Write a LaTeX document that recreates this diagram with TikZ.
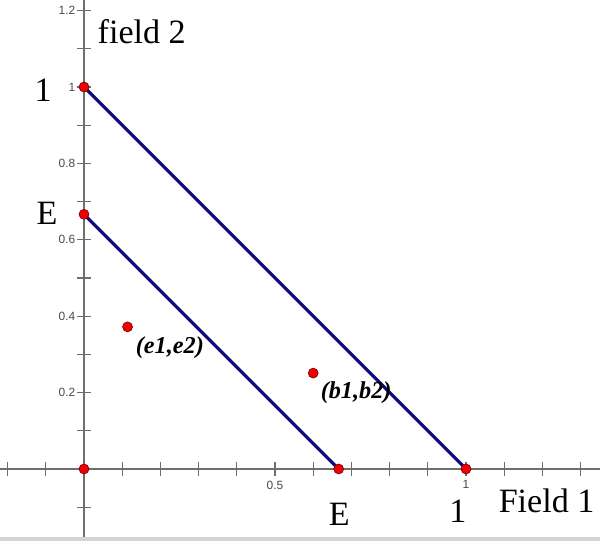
\documentclass[tikz,border=0pt]{standalone}
\usepackage{fontspec}
\setmainfont{Liberation Serif}
\setsansfont{Liberation Sans}
\usepackage{xcolor}
\usetikzlibrary{positioning}
\definecolor{fieldNavy}{HTML}{0C0C80}
\definecolor{fieldAxisGray}{HTML}{6E6E6E}
\definecolor{fieldTickText}{HTML}{4A4A4A}
\definecolor{fieldDotRed}{HTML}{F00000}
\definecolor{fieldDotRim}{HTML}{7A0000}
\definecolor{fieldFrame}{HTML}{D4D4D4}
\tikzset{
  fieldAxis/.style={
    draw=fieldAxisGray,
    line width=0.13mm
  },
  fieldTick/.style={
    draw=fieldAxisGray,
    line width=0.11mm
  },
  fieldTickLabel/.style={
    font=\sffamily\fontsize{3.4}{3.8}\selectfont,
    text=fieldTickText,
    inner sep=0pt
  },
  fieldLine/.style={
    draw=fieldNavy,
    line width=0.32mm
  },
  fieldDot/.style={
    circle,
    fill=fieldDotRed,
    draw=fieldDotRim,
    line width=0.06mm,
    minimum size=1.0mm,
    inner sep=0pt
  },
  fieldLabel/.style={
    font=\fontsize{9.7}{11}\selectfont,
    inner sep=0pt
  },
  fieldPairLabel/.style={
    font=\bfseries\itshape\fontsize{6.9}{8}\selectfont,
    inner sep=0pt
  }
}

\begin{document}
\begin{tikzpicture}[x=3.82cm, y=3.82cm]
\useasboundingbox (-0.2199,-0.1885) rectangle (1.3508,1.2277);
\fill[fieldFrame] (-0.2199,-0.1885) rectangle (1.3508,-0.178);

% axes and ticks
\draw[fieldAxis] (-0.2199,0) -- (1.3508,0);
\draw[fieldAxis] (0,-0.178) -- (0,1.2277);
\foreach \t in {-0.2,-0.1,0.1,0.2,0.3,0.4,0.5,0.6,0.7,0.8,0.9,1.0,1.1,1.2,1.3}
  \draw[fieldTick] (\t,-0.018) -- (\t,0.018);
\foreach \t in {-0.1,0.1,0.2,0.3,0.4,0.5,0.6,0.7,0.8,0.9,1.0,1.1,1.2}
  \draw[fieldTick] (-0.018,\t) -- (0.018,\t);
\foreach \t/\s in {0.2/0.2,0.4/0.4,0.6/0.6,0.8/0.8,1/1,1.2/1.2}
  \node[fieldTickLabel, anchor=east] (ytick\t) at (-0.021,\t) {\s};
\node[fieldTickLabel, anchor=north] (xtickhalf) at (0.5,-0.029) {0.5};
\node[fieldTickLabel, anchor=north] (xtickone) at (1,-0.029) {1};

% budget lines
\coordinate (origin) at (0,0);
\coordinate (topOne) at (0,1);
\coordinate (rightOne) at (1,0);
\coordinate (topE) at (0,0.6667);
\coordinate (rightE) at (0.6667,0);
\coordinate (ePoint) at (0.114,0.372);
\coordinate (bPoint) at (0.600,0.251);
\draw[fieldLine] (topOne) -- (rightOne);
\draw[fieldLine] (topE) -- (rightE);

\foreach \p in {origin,topOne,rightOne,topE,rightE,ePoint,bPoint}
  \node[fieldDot] (dot-\p) at (\p) {};

\node[fieldPairLabel, anchor=west] (eLabel) at (0.134,0.317) {(e1,e2)};
\node[fieldPairLabel, anchor=west] (bLabel) at (0.618,0.199) {(b1,b2)};

\node[fieldLabel, anchor=base] (oneLeft) at (-0.107,0.961) {1};
\node[fieldLabel, anchor=base] (eLeft) at (-0.097,0.639) {E};
\node[fieldLabel, anchor=base west] (fieldTwo) at (0.034,1.1126) {field 2};
\node[fieldLabel, anchor=base] (eBottom) at (0.668,-0.149) {E};
\node[fieldLabel, anchor=base] (oneBottom) at (0.979,-0.139) {1};
\node[fieldLabel, anchor=base west] (fieldOne) at (1.084,-0.115) {Field 1};
\end{tikzpicture}
\end{document}
